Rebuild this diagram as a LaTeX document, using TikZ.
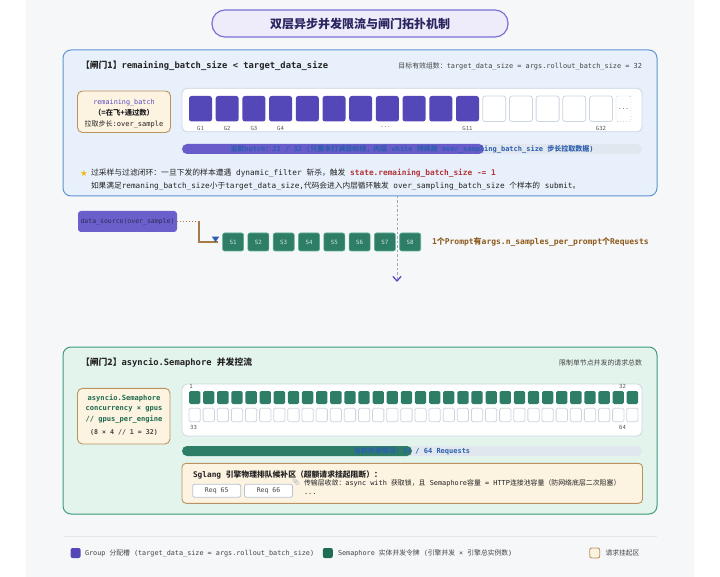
\documentclass[tikz,border=0pt]{standalone}
\usepackage{fontspec}
\setmainfont{DejaVu Sans Mono}
\newfontfamily\cjk{Noto Sans CJK SC}
\newfontfamily\djv{DejaVu Sans}
\newfontfamily\emo{Noto Emoji}
\newcommand\C[1]{{\cjk #1}}
\newcommand\fs[1]{\fontsize{#1}{#1}\selectfont}
\definecolor{pagebg}{HTML}{F6F7F9}
\definecolor{titlef}{HTML}{EEECFB}
\definecolor{titleb}{HTML}{7B70D6}
\definecolor{titlet}{HTML}{2A2560}
\definecolor{gaf}{HTML}{E8F1FB}
\definecolor{gab}{HTML}{5E93D6}
\definecolor{creamf}{HTML}{FDF3E1}
\definecolor{creamb}{HTML}{B9925F}
\definecolor{contb}{HTML}{CDD5E1}
\definecolor{purpc}{HTML}{5447B8}
\definecolor{purpbar}{HTML}{6A5BCB}
\definecolor{purpt}{HTML}{5A4CC0}
\definecolor{barbg}{HTML}{E1E7EF}
\definecolor{bluet}{HTML}{2D5FAE}
\definecolor{redt}{HTML}{B3343A}
\definecolor{starc}{HTML}{F2B807}
\definecolor{dsf}{HTML}{6B5FCB}
\definecolor{dstext}{HTML}{2B2B55}
\definecolor{greenc}{HTML}{2E7D67}
\definecolor{greenb}{HTML}{5FAE92}
\definecolor{gbf}{HTML}{E3F4ED}
\definecolor{gbb}{HTML}{3E9B7B}
\definecolor{greent}{HTML}{1D6A4F}
\definecolor{brownt}{HTML}{8C5A1C}
\definecolor{brownc}{HTML}{A27B4B}
\definecolor{brownd}{HTML}{B8753A}
\definecolor{tipblue}{HTML}{2A5DB0}
\definecolor{vdash}{HTML}{9BA7BD}
\definecolor{chevc}{HTML}{5B4FC2}
\definecolor{darkt}{HTML}{222222}
\definecolor{grayt}{HTML}{444444}
\definecolor{labt}{HTML}{555555}
\definecolor{slab}{HTML}{CFE8DE}
\definecolor{reqb}{HTML}{B8C4D6}
\definecolor{sepc}{HTML}{E3E6EA}
\definecolor{leggreen}{HTML}{1F6E54}
\definecolor{clipc}{HTML}{A8B0BE}
\tikzset{
  gatebox/.style={line width=1, rounded corners=8, anchor=north west},
  creambox/.style={draw=creamb, fill=creamf, line width=0.9, rounded corners=5, anchor=north west},
  contbox/.style={draw=contb, fill=white, line width=0.8, rounded corners=5, anchor=north west},
  gcellp/.style={fill=purpc, rounded corners=2.5, minimum width=23, minimum height=25.5, anchor=north west},
  gcellw/.style={draw=contb, fill=white, line width=0.8, rounded corners=2.5, minimum width=23, minimum height=25.5, anchor=north west},
  glab/.style={font=\fs{5.6}, text=labt},
  barbox/.style={fill=barbg, rounded corners=5, minimum width=460, minimum height=10, anchor=north west},
  scell/.style={fill=greenc, draw=greenb, line width=0.6, rounded corners=2, minimum width=21, minimum height=18, anchor=north west, font=\fs{5.8}, text=slab},
  tcell/.style={fill=greenc, rounded corners=1.5, minimum width=11.3, minimum height=13, anchor=north west},
  wcell/.style={draw=contb, fill=white, line width=0.8, rounded corners=1.5, minimum width=11.3, minimum height=13.4, anchor=north west},
  txt/.style={anchor=west},
  reqbox/.style={draw=reqb, fill=white, line width=0.8, rounded corners=2, minimum width=48, minimum height=13, anchor=north west, font=\fs{6.5}, text=grayt},
  legsq/.style={rounded corners=2, minimum width=10, minimum height=10, anchor=north west},
}
\begin{document}
\begin{tikzpicture}[x=1pt, y=-1pt, every node/.style={inner sep=0, outer sep=0}]
\useasboundingbox (0,0) rectangle (720,577);
\fill[pagebg] (26,0) rectangle (694,577);

% title
\node[draw=titleb, fill=titlef, line width=1.2, rounded corners=13, minimum width=296, minimum height=27, font=\cjk\bfseries\fs{12}, text=titlet] (title) at (360,23.5) {双层异步并发限流与闸门拓扑机制};

% ---------- gate 1 ----------
\node[gatebox, draw=gab, fill=gaf, minimum width=594, minimum height=146] (gate1) at (63,50) {};
\node[txt, font={\fs{8.8}\bfseries}, text=darkt] (h1) at (81,66) {\C{【闸门1】}remaining\_batch\_size < target\_data\_size};
\node[anchor=east, font=\fs{6.9}, text=grayt] (h1r) at (642,66) {\C{目标有效组数：}target\_data\_size = args.rollout\_batch\_size = 32};

\node[creambox, minimum width=93, minimum height=41.5] (rb) at (77.5,91) {};
\node[font=\fs{6.8}, text=purpt] (rb1) at (124,102.3) {remaining\_batch};
\node[font={\cjk\bfseries\fs{7.3}}, text=darkt] (rb2) at (124,112.9) {（=在飞+通过数）};
\node[font=\fs{7}, text=darkt] (rb3) at (124,124.3) {\C{拉取步长}:over\_sample};

\node[contbox, minimum width=460, minimum height=43.5] (gc) at (182,88.3) {};
\foreach \i in {1,...,11} \node[gcellp] (g\i) at ({189+(\i-1)*26.7},96) {};
\foreach \i in {12,...,16} \node[gcellw] (g\i) at ({189+(\i-1)*26.7},96) {};
\node[draw=contb, dotted, line width=0.9, rounded corners=2, minimum width=15, minimum height=25.5, anchor=north west, font=\fs{6}, text=labt] (gd) at (616,96) {...};
\foreach \i/\t in {1/G1,2/G2,3/G3,4/G4,11/G11,16/G32} \path (g\i.south) ++(0,7) node[glab] (lab\i) {\t};
\path (g8.south) ++(-2,6) node[glab] (lab8) {...};

\node[barbox] (pb1) at (182,144) {};
\fill[purpbar, rounded corners=5] (pb1.north west) rectangle ([xshift=302]pb1.south west);
\node[font={\fs{7}\bfseries}, text=bluet] (pt1) at (pb1.center) {\C{当前}batch\C{：}21 / 32 (\C{只要未打满目标线，内层} while \C{持续按} over\_sampling\_batch\_size \C{步长拉取数据})};

\node[font=\djv\fs{8.5}, text=starc] (star) at (84,173) {★};
\node[txt, font=\fs{7.8}, text=darkt] (n1) at (91,173) {\C{过采样与过滤闭环：一旦下发的样本遭遇} dynamic\_filter \C{斩杀，触发} {\bfseries\color{redt}state.remaining\_batch\_size -= 1}};
\node[txt, font=\fs{7.7}, text=darkt] (n2) at (91,186) {\C{如果满足}remaning\_batch\_size\C{小于}target\_data\_size,\C{代码会进入内层循环触发} over\_sampling\_batch\_size \C{个样本的} submit\C{。}};

% ---------- middle ----------
\node[fill=dsf, rounded corners=3, minimum width=99, minimum height=21, anchor=north west, font=\fs{6.5}, text=dstext] (ds) at (78,211) {data\_source(over\_sample)};
\foreach \i in {1,...,8} \node[scell] (s\i) at ({222.6+(\i-1)*25.3},233) {S\i};
\coordinate (bend) at (199,221.5);
\draw[brownd, line width=1, dotted] (ds.east) -- (bend);
\draw[brownc, line width=1.2] (bend) |- ([xshift=-5]s1.west);
\fill[tipblue] (211.8,236.6) -- (219.2,236.6) -- (215.5,242) -- cycle;
\node[txt, font={\fs{8}\bfseries}, text=brownt] (prm) at (432,242) {1\C{个}Prompt\C{有}args.n\_samples\_per\_prompt\C{个}Requests};

\coordinate (vend) at (397,281);
\draw[vdash, line width=1, dash pattern=on 2.5pt off 2pt] (gate1.south -| vend) -- (vend);
\draw[chevc, line width=1.3, line cap=round, line join=round] ([shift={(-4,-4.5)}]vend) -- (vend) -- ([shift={(4,-4.5)}]vend);

% ---------- gate 2 ----------
\node[gatebox, draw=gbb, fill=gbf, minimum width=594, minimum height=167] (gate2) at (63,347) {};
\node[txt, font={\fs{8.8}\bfseries}, text=darkt] (h2) at (81,363) {\C{【闸门2】}asyncio.Semaphore \C{并发控流}};
\node[anchor=east, font=\cjk\fs{6.9}, text=grayt] (h2r) at (642,363) {限制单节点并发的请求总数};

\node[creambox, minimum width=92.5, minimum height=55.7] (sb) at (77.5,388.3) {};
\node[font={\fs{7.1}\bfseries}, text=greent] (sb1) at (124,398.3) {asyncio.Semaphore};
\node[font={\fs{7.1}\bfseries}, text=greent] (sb2) at (124,409.3) {concurrency × gpus};
\node[font={\fs{7.1}\bfseries}, text=greent] (sb3) at (124,419.3) {// gpus\_per\_engine};
\node[font={\fs{6.6}\bfseries}, text=grayt] (sb4) at (124,432.3) {(8 × 4 // 1 = 32)};

\node[contbox, minimum width=460, minimum height=52] (tc) at (182,384) {};
\foreach \i in {1,...,32} \node[tcell] (t\i) at ({189+(\i-1)*14.12},391) {};
\foreach \i in {1,...,32} \node[wcell] (w\i) at ({189+(\i-1)*14.12},408.3) {};
\node[glab] (tl1) at (191,386) {1};
\node[glab] (tl32) at (622.5,386) {32};
\node[glab] (tl33) at (193.5,427.5) {33};
\node[glab] (tl64) at (622.5,427.5) {64};

\node[barbox] (pb2) at (182,446) {};
\fill[greenc, rounded corners=5] (pb2.north west) rectangle ([xshift=230]pb2.south west);
\node[font={\fs{7}\bfseries}, text=bluet] (pt2) at (pb2.center) {\C{当前并发情况：}32 / 64 Requests};

\node[creambox, minimum width=460.5, minimum height=40, rounded corners=4] (sg) at (182,463.3) {};
\node[txt, font={\fs{7.8}\bfseries}, text=darkt] (sgt) at (193,475) {Sglang \C{引擎物理排队候补区（超额请求挂起阻断）：}};
\node[reqbox] (r65) at (192.7,484.3) {Req 65};
\node[reqbox] (r66) at (244.5,484.3) {Req 66};
\node[font=\emo\fs{6.5}, text=clipc] (clip) at (296,482.5) {📎};
\node[txt, font=\fs{6.9}, text=darkt] (sgn) at (304,483.6) {\C{传输层收敛：}async with \C{获取锁，且} Semaphore\C{容量} = HTTP\C{连接池容量（防网络底层二次阻塞）}};
\node[anchor=base west, font=\fs{7}, text=darkt] (sgd) at (304,494.5) {...};

% ---------- legend ----------
\draw[sepc, line width=1] (63.5,536) -- (657,536);
\node[legsq, fill=purpc] (lg1) at (70.6,548) {};
\node[txt, font=\fs{6.8}, text=grayt] (lt1) at (85,553) {Group \C{分配槽} (target\_data\_size = args.rollout\_batch\_size)};
\node[legsq, fill=leggreen] (lg2) at (322.8,548) {};
\node[txt, font=\fs{6.8}, text=grayt] (lt2) at (338,553) {Semaphore \C{实体并发令牌} (\C{引擎并发} × \C{引擎总实例数})};
\node[legsq, fill=creamf, draw=creamb, line width=0.9] (lg3) at (589.7,548) {};
\node[txt, font=\cjk\fs{6.8}, text=grayt] (lt3) at (605.5,553) {请求挂起区};
\end{tikzpicture}
\end{document}
